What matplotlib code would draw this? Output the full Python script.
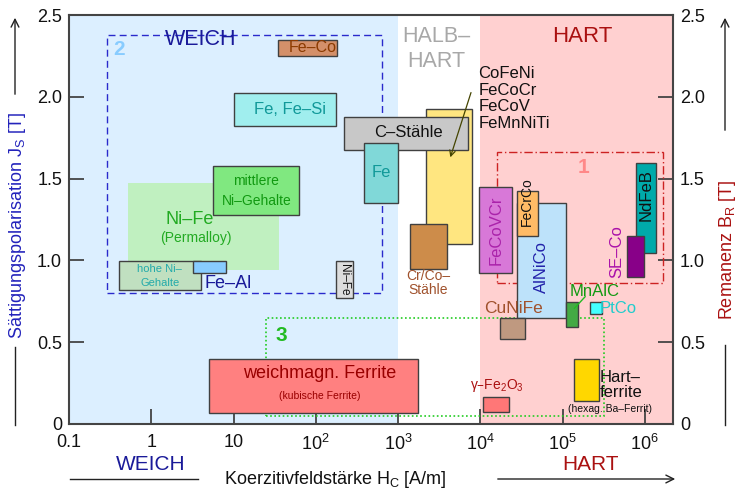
import matplotlib
matplotlib.use("Agg")
import matplotlib.pyplot as plt
from matplotlib.patches import Rectangle
from matplotlib.lines import Line2D

plt.rcParams['font.family'] = ['Liberation Sans', 'DejaVu Sans']
plt.rcParams['mathtext.default'] = 'regular'

# ---- material data: coercivity range H_C [A/m] and polarisation range J_S / B_R [T]
materials = ["Ni-Fe (Permalloy)", "Fe-Co", "Fe, Fe-Si", "CoFeNi etc.", "C-Stähle", "Fe",
             "mittlere Ni-Gehalte", "hohe Ni-Gehalte", "Fe-Al", "Ni-Fe (hart)",
             "weichmagn. Ferrite", "Cr/Co-Stähle", "FeCoVCr", "AlNiCo", "FeCrCo",
             "CuNiFe", "MnAlC", "PtCo", "NdFeB", "SE-Co", "Hartferrite", "gamma-Fe2O3"]
hc_low  = [0.515, 35, 10, 2200, 221, 391, 5.67, 0.40, 3.2, 177, 5.0, 1400, 9750, 27750,
           27750, 17400, 109000, 216000, 776000, 614000, 137000, 10900]
hc_high = [36, 180, 178, 7880, 7050, 1000, 63, 4.0, 8.1, 282, 1770, 3920, 24500, 110000,
           50000, 35000, 156000, 304000, 1360000, 970000, 277000, 22200]
j_low   = [0.94, 2.25, 1.82, 1.10, 1.675, 1.35, 1.275, 0.82, 0.92, 0.77, 0.07, 0.945, 0.925,
           0.645, 1.147, 0.52, 0.595, 0.672, 1.047, 0.90, 0.142, 0.072]
j_high  = [1.475, 2.35, 2.025, 1.925, 1.875, 1.72, 1.575, 0.995, 0.995, 0.995, 0.395, 1.22,
           1.447, 1.35, 1.424, 0.645, 0.748, 0.748, 1.597, 1.147, 0.395, 0.167]

# group outlines: 1 = hard magnets, 2 = soft metals, 3 = ferrites
group_names = ["1", "2", "3"]
group_hc_low  = [15850, 0.29, 25]
group_hc_high = [1.68e6, 641, 319000]
group_j_low   = [0.86, 0.803, 0.049]
group_j_high  = [1.661, 2.376, 0.65]

x_ticks = [0.1, 1, 10, 1e2, 1e3, 1e4, 1e5, 1e6]
x_tick_labels = ["0.1", "1", "10", "10$^2$", "10$^3$", "10$^4$", "10$^5$", "10$^6$"]
y_ticks = [0, 0.5, 1.0, 1.5, 2.0, 2.5]
y_tick_labels = ["0", "0.5", "1.0", "1.5", "2.0", "2.5"]

# ---- box styling (same order as materials)
face = ["#c0f0c0", "#d4906a", "#a0eeee", "#ffe680", "#c8c8c8", "#80d8d8",
        "#80e880", "#c0e0c0", "#88ccff", "#dddddd",
        "#ff8080", "#cd8c4a", "#d878d8", "#bde2fa", "#ffbb66",
        "#bf9980", "#44aa44", "#44ffff", "#00aaaa", "#880088", "#ffd700", "#ff7777"]
edge = ["none"] + ["#404040"] * (len(materials) - 1)

W, H = 739, 491
fig = plt.figure(figsize=(W / 100, H / 100), dpi=100)
ax = fig.add_axes([69 / W, 1 - 424 / H, (673 - 69) / W, (424 - 15) / H])
ax.set_xscale("log")
ax.set_xlim(0.1, 2.2e6)
ax.set_ylim(0, 2.5)

# soft / semi-hard / hard zones
ax.axvspan(0.1, 1e3, color="#dcefff", zorder=0, lw=0)
ax.axvspan(1e4, 2.2e6, color="#ffd0d0", zorder=0, lw=0)

for i in range(len(materials)):
    ax.add_patch(Rectangle((hc_low[i], j_low[i]), hc_high[i] - hc_low[i], j_high[i] - j_low[i],
                           facecolor=face[i], edgecolor=edge[i], lw=1.0,
                           zorder=1 if i == 0 else 3))

# group outlines
g_styles = [dict(color="#cc2222", ls=(0, (6, 2, 1, 2)), lw=1.0),
            dict(color="#2a2acc", ls=(0, (5, 3)), lw=1.0),
            dict(color="#22cc22", ls=(0, (1, 1.5)), lw=1.2)]
g_label_pos = [(1.82e5, 1.57), (0.41, 2.29), (37.7, 0.54)]
g_label_col = ["#ff8888", "#88ccff", "#22bb22"]
for i in range(3):
    ax.add_patch(Rectangle((group_hc_low[i], group_j_low[i]),
                           group_hc_high[i] - group_hc_low[i], group_j_high[i] - group_j_low[i],
                           fill=False, zorder=2, **g_styles[i]))
    ax.text(*g_label_pos[i], group_names[i], color=g_label_col[i], fontsize=15,
            fontweight="bold", ha="center", va="center", zorder=4)

def label(x, y, s, c, fs, **kw):
    kw.setdefault("ha", "center")
    kw.setdefault("va", "center")
    ax.text(x, y, s, color=c, fontsize=fs, zorder=5, **kw)

# zone headings
label(4.0, 2.35, "WEICH", "#1a1a99", 15.5)
label(2958, 2.29, "HALB–\nHART", "#a8a8a8", 15.5, linespacing=1.25)
label(1.76e5, 2.37, "HART", "#aa1111", 16)

# material labels
label(92, 2.30, "Fe–Co", "#8b3a00", 11.5)
label(48, 1.925, "Fe, Fe–Si", "#119999", 12)
label(1340, 1.78, "C–Stähle", "#111111", 12)
label(625, 1.54, "Fe", "#119999", 12)
label(19, 1.425, "mittlere\nNi–Gehalte", "#119911", 10, linespacing=1.6)
label(2.91, 1.247, "Ni–Fe", "#22aa22", 13)
label(3.52, 1.137, "(Permalloy)", "#22aa22", 10)
label(1.27, 0.905, "hohe Ni–\nGehalte", "#22aaaa", 8, linespacing=1.5)
label(4.43, 0.856, "Fe–Al", "#1a1a99", 13, ha="left")
label(223, 0.88, "Ni–Fe", "#111111", 8.5, rotation=270)
label(111, 0.306, "weichmagn. Ferrite", "#990000", 13)
label(111, 0.171, "(kubische Ferrite)", "#990000", 7.5)
label(2320, 0.862, "Cr/Co–\nStähle", "#a0522d", 10, linespacing=1.0)
label(9500, 1.99, "CoFeNi\nFeCoCr\nFeCoV\nFeMnNiTi", "#111111", 12, ha="left",
      linespacing=1.12)
label(15600, 1.186, "FeCoVCr", "#aa22aa", 12, rotation=90)
label(36700, 1.36, "FeCrCo", "#111111", 10, rotation=90)
label(55000, 0.96, "AlNiCo", "#2222aa", 12, rotation=90)
label(1.03e6, 1.40, "NdFeB", "#111111", 12, rotation=90)
label(4.55e5, 1.053, "SE–Co", "#aa11aa", 12, rotation=90)
label(25000, 0.709, "CuNiFe", "#a0522d", 12.5)
label(2.42e5, 0.809, "MnAlC", "#119911", 12)
label(2.86e5, 0.709, "PtCo", "#22cccc", 12, ha="left")
label(2.8e5, 0.238, "Hart–\nferrite", "#111111", 12, ha="left", linespacing=1.0)
label(3.78e5, 0.092, "(hexag. Ba–Ferrit)", "#111111", 7.5)
label(15850, 0.238, "γ–Fe$_2$O$_3$", "#aa1111", 10)

# pointers
ax.annotate("", xy=(4220, 1.614), xytext=(7890, 2.042),
            arrowprops=dict(arrowstyle="->", color="#444400", lw=0.9), zorder=6)
ax.plot([1.88e5, 1.39e5], [0.778, 0.707], color="#22bb22", lw=1.0, zorder=6)

# axes styling
ax.set_xticks(x_ticks)
ax.set_xticklabels(x_tick_labels)
ax.minorticks_off()
ax.set_yticks(y_ticks)
ax.set_yticklabels(y_tick_labels)
ax.tick_params(axis="both", direction="in", length=11, width=1.3, color="#444444",
               labelsize=13, labelcolor="#111111")
ax.tick_params(axis="y", right=True, labelright=True, pad=5)
ax.tick_params(axis="x", pad=7)
for sp in ax.spines.values():
    sp.set_color("#444444")
    sp.set_linewidth(1.5)

# outer axis titles and arrows
def fx(px):
    return px / W

def fy(py):
    return 1 - py / H

fig.text(fx(18), fy(226), "Sättigungspolarisation J$_S$ [T]", color="#2222bb", fontsize=13,
         rotation=90, ha="center", va="center")
fig.text(fx(727), fy(250), "Remanenz B$_R$ [T]", color="#aa1111", fontsize=13,
         rotation=90, ha="center", va="center")
fig.text(fx(335), fy(479), "Koerzitivfeldstärke H$_C$ [A/m]", color="#111111", fontsize=13,
         ha="center", va="center")
fig.text(fx(151), fy(465), "WEICH", color="#1a1a99", fontsize=15, ha="center", va="center")
fig.text(fx(590), fy(465), "HART", color="#aa1111", fontsize=15, ha="center", va="center")

arrow_kw = dict(arrowstyle="->", color="#222222", lw=1.0, mutation_scale=14)
fig.add_artist(Line2D([fx(15), fx(15)], [fy(425), fy(347)], color="#222222", lw=1.0))
fig.patches.append(matplotlib.patches.FancyArrowPatch((fx(15), fy(97)), (fx(15), fy(15)),
                   transform=fig.transFigure, **arrow_kw))
fig.add_artist(Line2D([fx(725), fx(725)], [fy(425), fy(345)], color="#222222", lw=1.0))
fig.patches.append(matplotlib.patches.FancyArrowPatch((fx(725), fy(133)), (fx(725), fy(15)),
                   transform=fig.transFigure, **arrow_kw))
fig.add_artist(Line2D([fx(70), fx(198)], [fy(479), fy(479)], color="#222222", lw=1.0))
fig.patches.append(matplotlib.patches.FancyArrowPatch((fx(495), fy(479)), (fx(678), fy(479)),
                   transform=fig.transFigure, **arrow_kw))

fig.savefig("out.png", dpi=100)
